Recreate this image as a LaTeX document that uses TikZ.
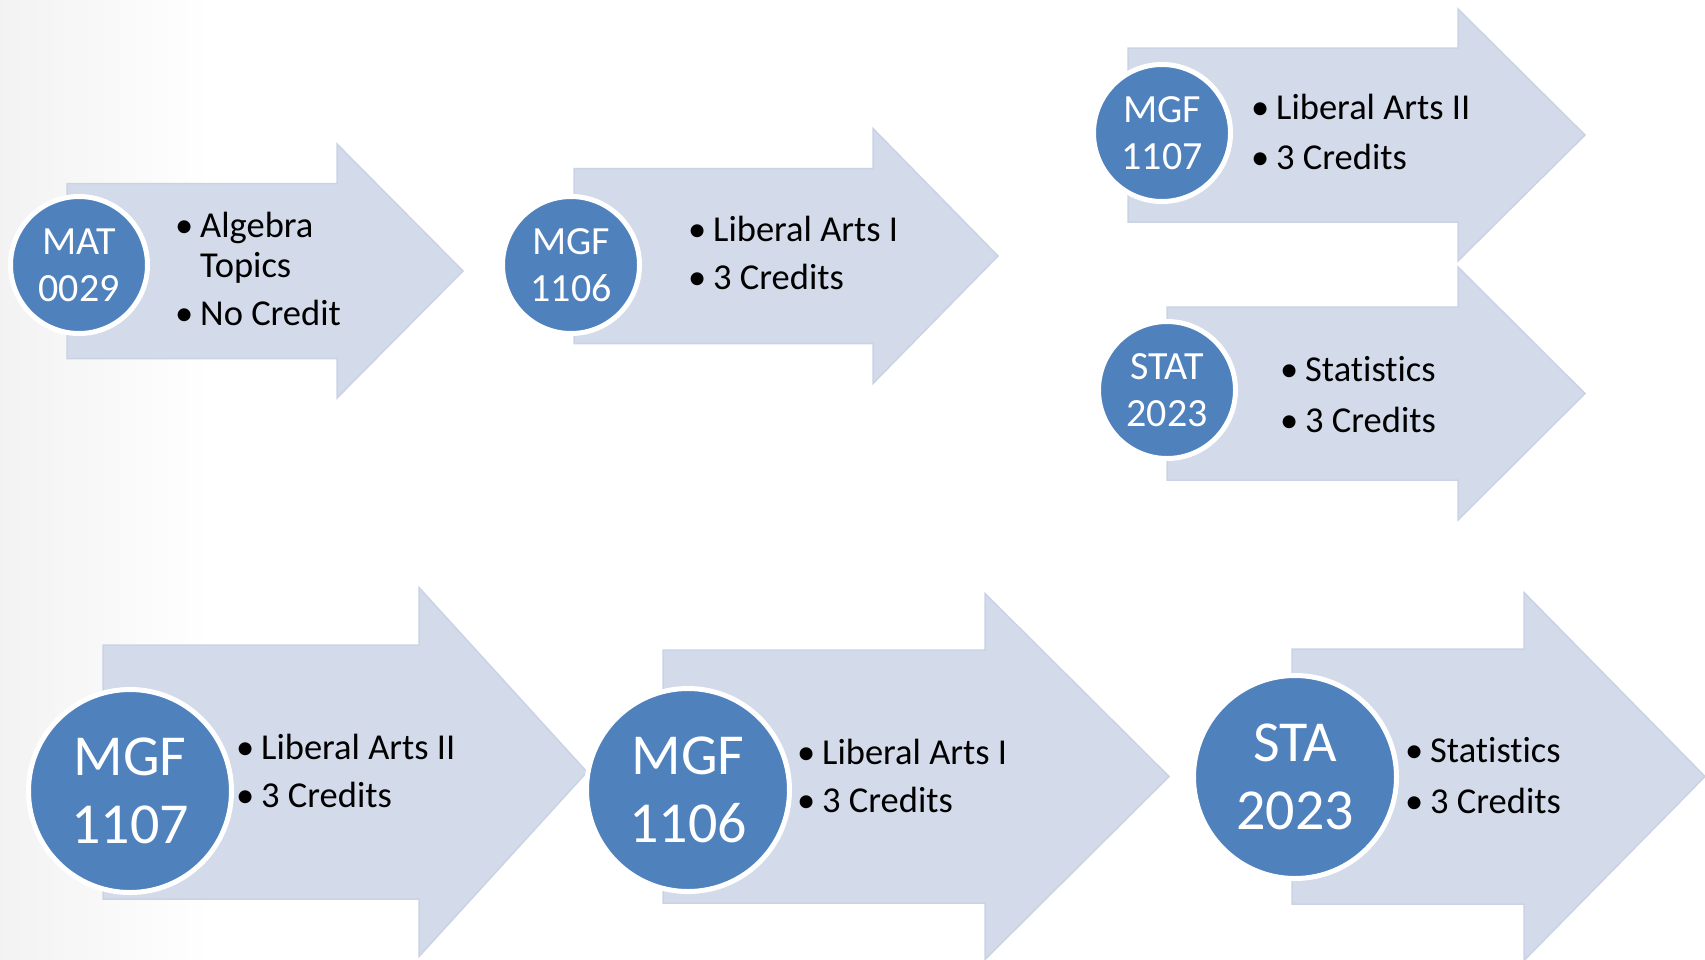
\documentclass[tikz,border=0pt]{standalone}
\usepackage{fontspec}
\setmainfont{Carlito}[Ligatures={NoCommon}]
\usetikzlibrary{calc}
\definecolor{arrowfill}{RGB}{211,219,234}
\definecolor{arrowedge}{RGB}{202,211,229}
\definecolor{courseblue}{RGB}{79,129,189}
\tikzset{course/.style={circle,fill=courseblue,draw=white,line width=5pt,inner sep=0pt,text=white,align=center,font=\fontsize{40}{47}\selectfont,minimum size=137pt}}

\begin{document}
\begin{tikzpicture}[x=1pt,y=-1pt]
\tikzset{bigcourse/.style={course,font=\fontsize{58}{68}\selectfont,minimum size=203pt},
	arrowbox/.style={fill=arrowfill,draw=arrowedge,line width=1.5pt},
	dot/.style={anchor=base west,inner sep=0pt,font=\fontsize{36.5}{44}\selectfont},
	item/.style={anchor=base west,inner sep=0pt,font=\fontsize{36.5}{44}\selectfont}}

\useasboundingbox (0,0) rectangle (1705,959);
\shade[left color=black!5,right color=white] (0,0) rectangle (210,959);

% arrows: left / centre / head / tip / half shaft / half head
\foreach \l/\c/\h/\t/\s/\w in {67/271/337/463/87.5/127, 574/256/873/998/87.5/127.5,
	1128/135/1458/1585/87/126, 1167/393.5/1458/1585/86.5/126.5,
	103/772/419/587/127/184.5, 663/776.5/985/1169/126.5/183, 1292/776.5/1524/1705/127.5/184} {
	\draw[arrowbox] (\l,\c-\s) -- (\h,\c-\s) -- (\h,\c-\w) -- (\t,\c) -- (\h,\c+\w) -- (\h,\c+\s) -- (\l,\c+\s) -- cycle;
}

\foreach \i/\x/\y/\txt in {1/79/265/MAT\\0029, 2/571/265/MGF\\1106, 3/1162/133/MGF\\1107, 4/1167/390/STAT\\2023} {
	\node[course] (C\i) at (\x,\y) {\txt};
}
\foreach \i/\x/\y/\txt in {5/130/791/MGF\\1107, 6/688/790/MGF\\1106, 7/1295/777/STA\\2023} {
	\node[bigcourse] (C\i) at (\x,\y) {\txt};
}

% bullet lines
\foreach \n/\tx/\y/\txt in {1a/200/237/Algebra, 1b/200/325/No Credit,
	2a/713/241/Liberal Arts I, 2b/713/289/3 Credits,
	3a/1276/119/Liberal Arts II, 3b/1276/169/3 Credits,
	4a/1305/381/Statistics, 4b/1305/432/3 Credits,
	5a/261/759/Liberal Arts II, 5b/261/807/3 Credits,
	6a/822/764/Liberal Arts I, 6b/822/812/3 Credits,
	7a/1430/762/Statistics, 7b/1430/813/3 Credits} {
	\node[dot] (d\n) at (\tx-25,\y) {•};
	\node[item] (t\n) at (\tx,\y) {\txt};
}
\node[item] (t1c) at (200,277) {Topics};

\end{tikzpicture}
\end{document}
